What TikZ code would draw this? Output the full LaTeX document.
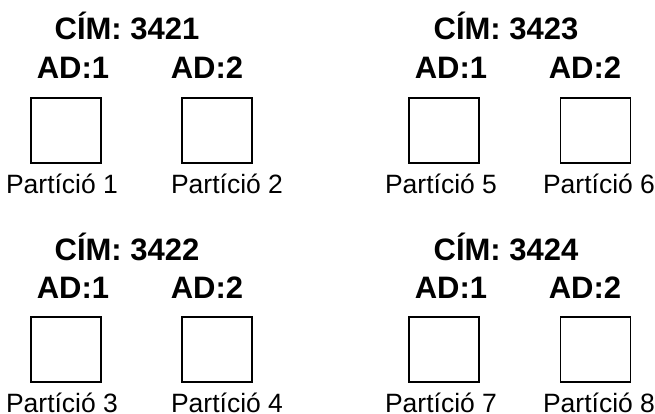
\documentclass[tikz,border=0pt]{standalone}
\usepackage{fontspec}
\setmainfont{Liberation Sans}
\begin{document}
\begin{tikzpicture}[x=1pt,y=1pt,
  boxst/.style={draw=black,line width=1.3pt,minimum width=70pt,minimum height=65pt,inner sep=0pt},
  cimst/.style={anchor=base,inner sep=0pt,font=\fontsize{31}{33}\selectfont\bfseries},
  adst/.style={anchor=base,inner sep=0pt,font=\fontsize{31}{33}\selectfont\bfseries},
  partst/.style={anchor=base,inner sep=0pt,font=\fontsize{26.5}{28}\selectfont}]
\useasboundingbox (0,0) rectangle (655,413);
% top-left
\node[cimst] (c1) at (127,373) {CÍM: 3421};
\node[adst] (a11) at (73,334) {AD:1};
\node[adst] (a12) at (207,334) {AD:2};
\node[boxst] (b1) at (66,282.5) {};
\node[boxst] (b2) at (217,282.5) {};
\node[partst] (p1) at (62,220) {Partíció 1};
\node[partst] (p2) at (227,220) {Partíció 2};
% top-right
\node[cimst] (c3) at (506,373) {CÍM: 3423};
\node[adst] (a31) at (451,334) {AD:1};
\node[adst] (a32) at (585,334) {AD:2};
\node[boxst] (b5) at (444,282.5) {};
\node[boxst] (b6) at (595.5,282.5) {};
\node[partst] (p5) at (441,220) {Partíció 5};
\node[partst] (p6) at (599,220) {Partíció 6};
% bottom-left
\node[cimst] (c2) at (127,153) {CÍM: 3422};
\node[adst] (a21) at (73,115) {AD:1};
\node[adst] (a22) at (207,115) {AD:2};
\node[boxst] (b3) at (66,63.5) {};
\node[boxst] (b4) at (217,63.5) {};
\node[partst] (p3) at (62,1) {Partíció 3};
\node[partst] (p4) at (227,1) {Partíció 4};
% bottom-right
\node[cimst] (c4) at (506,153) {CÍM: 3424};
\node[adst] (a41) at (451,115) {AD:1};
\node[adst] (a42) at (585,115) {AD:2};
\node[boxst] (b7) at (444,63.5) {};
\node[boxst] (b8) at (595.5,63.5) {};
\node[partst] (p7) at (441,1) {Partíció 7};
\node[partst] (p8) at (599,1) {Partíció 8};
\end{tikzpicture}
\end{document}
